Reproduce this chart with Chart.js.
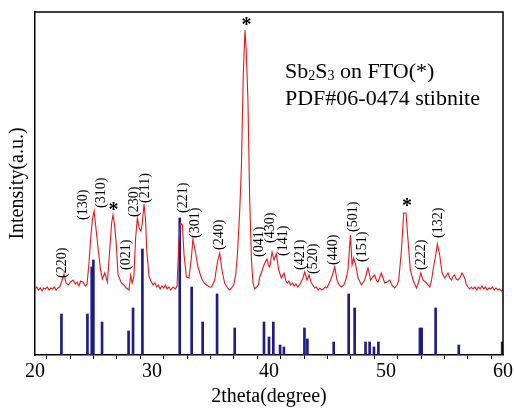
<!DOCTYPE html>
<html>
<head>
<title>Sb2S3 XRD</title>
<script src="https://cdn.jsdelivr.net/npm/chart.js"></script>
<style>
  body { margin: 0; background: #fff; }
  #wrap { width: 514px; height: 409px; }
</style>
</head>
<body>
<div id="wrap"><canvas id="xrd" width="514" height="409"></canvas></div>
<script>
// measured pattern (2theta, intensity a.u.), one line per stretch
const twoTheta = [
  20.0,20.15,20.3,20.45,20.6,20.75,20.9,21.05,21.2,21.35,21.5,21.65,21.8,21.95,22.1,22.3,22.48,22.65,22.85,23.05,23.25,23.45,23.6,23.75,23.9,24.1,24.3,24.45,
  24.6,24.75,24.9,25.05,25.2,25.4,25.6,25.76,25.96,26.19,26.38,26.55,26.67,26.8,26.95,27.1,27.38,27.6,27.8,28.03,
  28.18,28.3,28.45,28.6,28.75,28.9,29.05,29.15,29.32,29.45,29.55,29.74,29.9,
  30.1,30.25,30.4,30.55,30.7,30.85,31.0,31.15,31.3,31.45,31.6,31.8,32.0,
  32.14,32.3,32.43,32.6,32.74,32.94,33.16,33.37,33.5,33.71,33.93,34.22,34.45,34.65,34.9,35.1,35.36,35.59,35.79,
  35.98,36.21,36.45,36.64,36.8,36.98,37.15,37.3,37.5,37.64,37.8,37.95,38.05,38.2,38.35,38.5,38.63,38.78,38.95,39.1,
  39.2,39.35,39.5,39.65,39.83,39.95,40.06,40.26,40.43,40.63,40.83,41.06,41.28,41.45,
  41.57,41.7,41.85,42.0,42.15,42.3,42.45,42.62,42.9,43.05,43.25,43.42,43.62,43.75,43.9,44.05,44.2,44.35,44.5,44.65,44.8,44.95,45.19,
  45.42,45.62,45.81,46.0,46.19,46.4,46.56,46.75,46.96,47.1,
  47.24,47.41,47.61,47.9,48.18,48.46,48.69,48.85,49.03,49.2,49.32,49.6,49.89,50.1,50.32,50.5,50.74,50.95,51.09,51.32,
  51.51,51.71,51.88,52.08,52.31,52.6,52.79,52.97,53.16,53.45,53.74,53.9,54.02,54.22,54.39,54.59,54.79,
  55.02,55.3,55.45,55.59,55.75,55.87,56.0,56.15,56.35,56.5,56.73,56.85,57.0,57.15,57.3,57.44,57.6,57.75,57.9,58.05,58.2,58.35,58.5,58.65,58.8,58.95,59.1,59.25,59.4,59.55,59.7,59.85,60.0
];
const intensity = [
  66,68,65,67,64,67,66,68,65,67,66,68,65,67,68,74,81,72,70,73,75,71,73,69,74,73,69,71,
  90,115,135,144,128,106,85,76,82,73,104,132,140,130,110,80,72,70,67,65,
  80,72,78,117,137,127,124,130,151,135,105,79,74,
  70,72,68,70,66,69,67,70,66,68,65,68,66,
  69,114,132,130,100,78,77,98,116,103,88,77,72,70,68,68,75,93,102,
  85,72,67,65,67,70,80,100,145,188,280,325,305,255,155,95,72,66,68,70,
  78,82,88,92,96,90,88,103,95,101,85,77,82,74,
  72,74,70,72,69,71,68,70,77,83,75,80,72,70,67,68,65,67,65,66,68,67,73,
  80,88,75,70,68,70,75,85,120,90,
  97,90,77,70,75,87,75,78,80,74,73,82,72,73,75,70,67,70,75,105,
  142,142,115,85,75,67,73,82,75,72,68,75,85,98,111,100,82,
  77,82,77,75,79,80,76,75,78,82,77,71,68,66,68,66,68,65,68,66,69,66,68,65,67,66,68,65,67,65,66,64,65
];

// PDF#06-0474 stick pattern
const stickPos = [22.26,24.48,24.85,24.99,25.73,28.0,28.38,29.18,32.37,33.39,34.33,35.56,37.07,39.57,40.0,40.37,
  40.95,41.27,43.03,43.28,45.53,46.81,47.32,48.25,48.6,48.97,49.35,52.9,53.05,54.24,56.22,59.93];
const stickHeight = [41,41,88,95,33,24,47,106,137,68,33,61,27,33,18,33,
  10,8,27,16,13,61,47,13,13,8,13,27,27,47,10,13];

// peak labels: text, 2theta, intensity at label start
const hklText = ['(220)','(130)','(310)','(021)','(230)','(211)','(221)','(301)','(240)','(041)','(430)','(141)',
  '(421)','(520)','(440)','(501)','(151)','(222)','(132)'];
const hklX = [22.36,24.1,25.67,27.8,28.46,29.47,32.66,33.74,35.79,39.2,40.1,41.24,42.68,43.75,45.5,47.18,47.95,53.0,54.45];
const hklY = [77,135,147,85,138,152,142,117,105,98,112,99,85,81,90,123,93,85,117];

// FTO substrate peaks
const starX = [26.7, 38.07, 51.8];
const starY = [148, 333, 152];

Chart.defaults.font.family = "'Liberation Serif', 'Times New Roman', serif";
Chart.defaults.color = '#000';

const frameAndText = {
  id: 'frameAndText',
  afterDraw(chart) {
    const {ctx, chartArea: a, scales: {x, y}} = chart;
    ctx.save();
    ctx.strokeStyle = '#000';
    ctx.lineWidth = 1.5;
    ctx.beginPath();
    ctx.moveTo(a.left, a.top);
    ctx.lineTo(a.right, a.top);
    ctx.lineTo(a.right, a.bottom);
    ctx.stroke();

    ctx.fillStyle = '#000';
    ctx.font = "14px 'Liberation Serif'";
    ctx.textAlign = 'left';
    ctx.textBaseline = 'middle';
    hklText.forEach((t, i) => {
      ctx.save();
      ctx.translate(x.getPixelForValue(hklX[i]), y.getPixelForValue(hklY[i]));
      ctx.rotate(-Math.PI / 2);
      ctx.fillText(t, 0, 0);
      ctx.restore();
    });

    ctx.font = "bold 20px 'Liberation Serif'";
    ctx.textAlign = 'center';
    ctx.textBaseline = 'alphabetic';
    starX.forEach((s, i) => {
      ctx.fillText('*', x.getPixelForValue(s), y.getPixelForValue(starY[i]) + 9);
    });

    // legend text
    const big = "22px 'Liberation Serif'", small = "14px 'Liberation Serif'";
    let px = 285;
    const base = 78;
    [['Sb', big, 0], ['2', small, 2], ['S', big, 0], ['3', small, 2], [' on FTO(*)', big, 0]].forEach(([t, f, dy]) => {
      ctx.font = f;
      ctx.textAlign = 'left';
      ctx.fillText(t, px, base + dy);
      px += ctx.measureText(t).width;
    });
    ctx.font = big;
    ctx.fillText('PDF#06-0474 stibnite', 285, 105);
    ctx.restore();
  }
};

new Chart(document.getElementById('xrd'), {
  data: {
    datasets: [
      {
        type: 'line',
        data: twoTheta.map((t, i) => ({x: t, y: intensity[i]})),
        borderColor: '#e31a1c',
        borderWidth: 1.1,
        pointRadius: 0,
        tension: 0,
        order: 1
      },
      {
        type: 'bar',
        data: stickPos.map((p, i) => ({x: p, y: stickHeight[i]})),
        backgroundColor: '#1c1c8a',
        barThickness: 2,
        order: 2
      }
    ]
  },
  options: {
    responsive: false,
    animation: false,
    devicePixelRatio: 1,
    layout: { padding: { top: 12, right: 11, left: 0, bottom: 0 } },
    plugins: { legend: { display: false }, tooltip: { enabled: false } },
    scales: {
      x: {
        type: 'linear',
        min: 20, max: 60,
        offset: false,
        afterFit(s) { s.height = 54; },
        grid: { display: true, drawOnChartArea: false, drawTicks: true, tickLength: 4, color: '#000', lineWidth: 1 },
        border: { display: true, color: '#000', width: 1.5 },
        ticks: {
          stepSize: 2,
          autoSkip: false,
          maxRotation: 0,
          padding: 1,
          font: { size: 20 },
          callback: v => (v % 10 === 0 ? v : '')
        },
        title: { display: true, text: '2theta(degree)', font: { size: 20 }, padding: { top: 0, bottom: 0 } }
      },
      y: {
        min: 0, max: 343,
        afterFit(s) { s.width = 35; },
        grid: { display: false },
        border: { display: true, color: '#000', width: 1.5 },
        ticks: { display: false },
        title: { display: true, text: 'Intensity(a.u.)', font: { size: 20 }, padding: { top: 6, bottom: 0 } }
      }
    }
  },
  plugins: [frameAndText]
});
</script>
</body>
</html>
